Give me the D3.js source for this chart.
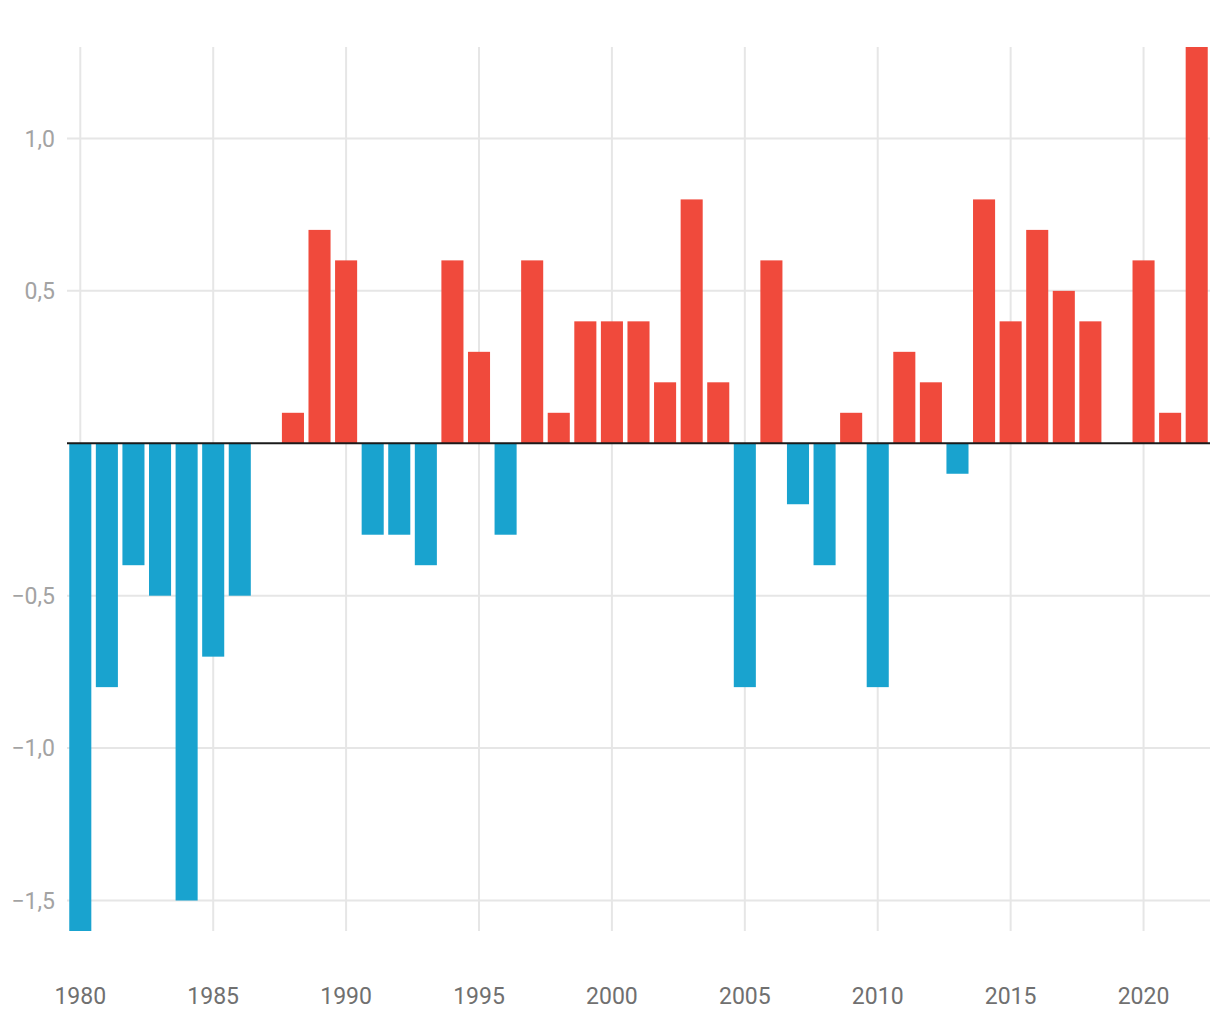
<!DOCTYPE html>
<html><head><meta charset="utf-8">
<script src="https://cdn.jsdelivr.net/npm/d3@7"></script>
<style>body{margin:0;background:#fff;}svg{display:block;font-family:Roboto,sans-serif;}</style>
</head><body>
<svg id="chart" width="1220" height="1020"></svg>
<script>
const years = d3.range(1980, 2023);
const values = [-1.6,-0.8,-0.4,-0.5,-1.5,-0.7,-0.5,0,0.1,0.7,0.6,-0.3,-0.3,-0.4,0.6,0.3,-0.3,0.6,0.1,0.4,0.4,0.4,0.2,0.8,0.2,-0.8,0.6,-0.2,-0.4,0.1,-0.8,0.3,0.2,-0.1,0.8,0.4,0.7,0.5,0.4,0,0.6,0.1,1.3];
const yTicks = [-1.5,-1.0,-0.5,0.5,1.0];
const xTicks = [1980,1985,1990,1995,2000,2005,2010,2015,2020];

const data = years.map((y,i)=>({year:y, value:values[i]}));
const svg = d3.select("#chart");
const pLeft = 67, pRight = 1210, pTop = 47, pBottom = 931;

const x = d3.scaleBand().domain(years).range([pLeft, pRight]).paddingInner(0.17).paddingOuter(0.085);
const y = d3.scaleLinear().domain([-1.6, 1.3]).range([pBottom, pTop]);
const loc = d3.formatLocale({decimal:",", thousands:".", grouping:[3], currency:["","€"], minus:"\u2212"});
const fmt = loc.format(".1f");

// vertical gridlines
svg.append("g").selectAll("line").data(xTicks).join("line")
  .attr("x1", d=>x(d)+x.bandwidth()/2).attr("x2", d=>x(d)+x.bandwidth()/2)
  .attr("y1", pTop).attr("y2", pBottom)
  .attr("stroke", "#e6e6e6").attr("stroke-width", 2);
// horizontal gridlines
svg.append("g").selectAll("line").data(yTicks).join("line")
  .attr("x1", pLeft).attr("x2", pRight)
  .attr("y1", d=>y(d)).attr("y2", d=>y(d))
  .attr("stroke", "#e6e6e6").attr("stroke-width", 2);

// bars
svg.append("g").selectAll("rect").data(data.filter(d=>d.value!==0)).join("rect")
  .attr("x", d=>x(d.year)).attr("width", x.bandwidth())
  .attr("y", d=>y(Math.max(0,d.value)))
  .attr("height", d=>Math.abs(y(d.value)-y(0)))
  .attr("fill", d=>d.value>0 ? "#f04a3c" : "#19a3cf");

// zero line
svg.append("line").attr("x1", pLeft).attr("x2", pRight)
  .attr("y1", y(0)).attr("y2", y(0)).attr("stroke", "#1a1a1a").attr("stroke-width", 2);

// y labels
svg.append("g").selectAll("text").data(yTicks).join("text")
  .attr("x", 55).attr("y", d=>y(d)).attr("dy", "0.36em")
  .attr("text-anchor", "end").attr("fill", "#a3a3a3")
  .style("font-size", "23px").text(d=>fmt(d));

// x labels
svg.append("g").selectAll("text").data(xTicks).join("text")
  .attr("x", d=>x(d)+x.bandwidth()/2).attr("y", 1004)
  .attr("text-anchor", "middle").attr("fill", "#707070")
  .style("font-size", "23px").text(d=>d);
</script>
</body></html>
